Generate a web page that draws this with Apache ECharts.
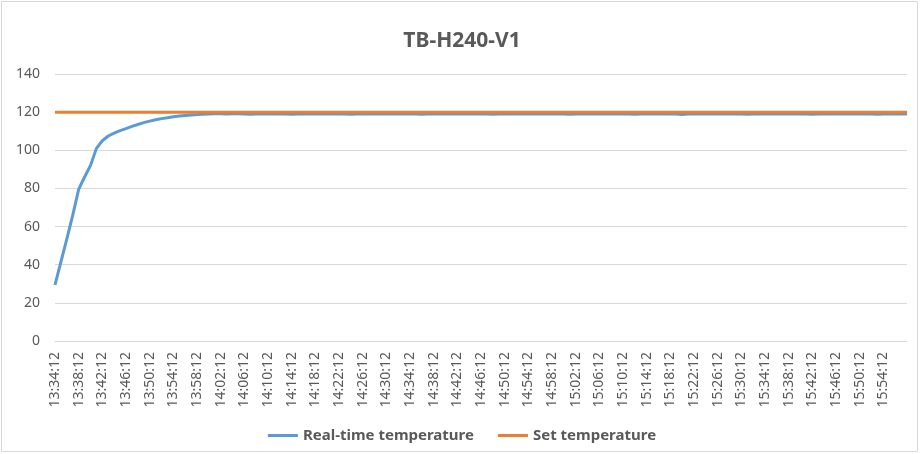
<!DOCTYPE html>
<html>
<head>
<meta charset="utf-8">
<script src="https://cdn.jsdelivr.net/npm/echarts@6/dist/echarts.min.js"></script>
<style>html,body{margin:0;padding:0;background:#fff;}#c{width:924px;height:454px;}</style>
</head>
<body>
<div id="c"></div>
<script>
const titleText = "TB-H240-V1";
const times = [
"13:34:12","13:35:12","13:36:12","13:37:12","13:38:12","13:39:12","13:40:12","13:41:12","13:42:12","13:43:12",
"13:44:12","13:45:12","13:46:12","13:47:12","13:48:12","13:49:12","13:50:12","13:51:12","13:52:12","13:53:12",
"13:54:12","13:55:12","13:56:12","13:57:12","13:58:12","13:59:12",
"14:00:12","14:01:12","14:02:12","14:03:12","14:04:12","14:05:12","14:06:12","14:07:12","14:08:12","14:09:12",
"14:10:12","14:11:12","14:12:12","14:13:12","14:14:12","14:15:12","14:16:12","14:17:12","14:18:12","14:19:12",
"14:20:12","14:21:12","14:22:12","14:23:12","14:24:12","14:25:12","14:26:12","14:27:12","14:28:12","14:29:12",
"14:30:12","14:31:12","14:32:12","14:33:12","14:34:12","14:35:12","14:36:12","14:37:12","14:38:12","14:39:12",
"14:40:12","14:41:12","14:42:12","14:43:12","14:44:12","14:45:12","14:46:12","14:47:12","14:48:12","14:49:12",
"14:50:12","14:51:12","14:52:12","14:53:12","14:54:12","14:55:12","14:56:12","14:57:12","14:58:12","14:59:12",
"15:00:12","15:01:12","15:02:12","15:03:12","15:04:12","15:05:12","15:06:12","15:07:12","15:08:12","15:09:12",
"15:10:12","15:11:12","15:12:12","15:13:12","15:14:12","15:15:12","15:16:12","15:17:12","15:18:12","15:19:12",
"15:20:12","15:21:12","15:22:12","15:23:12","15:24:12","15:25:12","15:26:12","15:27:12","15:28:12","15:29:12",
"15:30:12","15:31:12","15:32:12","15:33:12","15:34:12","15:35:12","15:36:12","15:37:12","15:38:12","15:39:12",
"15:40:12","15:41:12","15:42:12","15:43:12","15:44:12","15:45:12","15:46:12","15:47:12","15:48:12","15:49:12",
"15:50:12","15:51:12","15:52:12","15:53:12","15:54:12","15:55:12","15:56:12","15:57:12","15:58:12"
];
const realTimeTemp = [
29.4,41.5,53.5,66,79.5,86,92,101,105,107.5,
109,110.3,111.4,112.5,113.5,114.5,115.3,116,116.6,117.1,
117.6,118,118.3,118.5,118.7,118.9,
119,119.1,119.1,119,119.2,119.1,119,118.9,119,119.1,
119,119,119.1,119,118.9,119,119,119.1,119,119,
119,119.1,119,119,118.9,119,119,119,119.1,119,
119,119,119,119.1,119,119,118.9,119,119,119,
119.1,119,119,119,119,119.1,119,119,118.9,119,
119,119,119.1,119,119,119,119,119.1,119,119,
119,118.9,119,119,119.1,119,119,119,119,119.1,
119,119,118.9,119,119,119.1,119,119,119,119,
118.8,119,119,119.1,119,119,119,119,119.1,119,
119,118.9,119,119,119.1,119,119,119,119,119.1,
119,119,118.9,119,119,119.1,119,119,119,119,
119.1,119,119,118.9,119,119,119,119.1,119
];
const setTemp = [
120,120,120,120,120,120,120,120,120,120,120,120,120,120,120,120,120,120,120,120,
120,120,120,120,120,120,120,120,120,120,120,120,120,120,120,120,120,120,120,120,
120,120,120,120,120,120,120,120,120,120,120,120,120,120,120,120,120,120,120,120,
120,120,120,120,120,120,120,120,120,120,120,120,120,120,120,120,120,120,120,120,
120,120,120,120,120,120,120,120,120,120,120,120,120,120,120,120,120,120,120,120,
120,120,120,120,120,120,120,120,120,120,120,120,120,120,120,120,120,120,120,120,
120,120,120,120,120,120,120,120,120,120,120,120,120,120,120,120,120,120,120,120,
120,120,120,120,120
];
const seriesNames = ["Real-time temperature", "Set temperature"];

const chart = echarts.init(document.getElementById('c'));
const FONT = "'Noto Sans', 'Open Sans', sans-serif";
chart.setOption({
  animation: false,
  backgroundColor: '#fff',
  textStyle: { fontFamily: FONT },
  graphic: [{
    type: 'rect', shape: { x: 1.5, y: 1.5, width: 916, height: 450 },
    style: { fill: 'none', stroke: '#d9d9d9', lineWidth: 1 }, silent: true
  }],
  title: {
    text: titleText, left: 'center', top: 26,
    textStyle: { fontSize: 21, fontWeight: 'bold', color: '#595959', fontFamily: FONT }
  },
  legend: {
    data: seriesNames, bottom: 6, left: 'center', itemGap: 24,
    icon: 'rect', itemWidth: 30, itemHeight: 3,
    textStyle: { fontSize: 15, fontWeight: 'bold', color: '#595959', fontFamily: FONT }
  },
  grid: { left: 55, right: 17, top: 74, bottom: 113, containLabel: false },
  xAxis: {
    type: 'category', data: times, boundaryGap: false,
    axisLine: { show: true, lineStyle: { color: '#d9d9d9', width: 1 } },
    axisTick: { show: false },
    axisLabel: {
      rotate: 90, margin: 11, fontSize: 14, color: '#595959', fontFamily: FONT,
      interval: function (i) { return i % 4 === 0 && i < 144; }
    },
    splitLine: { show: false }
  },
  yAxis: {
    type: 'value', min: 0, max: 140, interval: 20,
    axisLine: { show: false }, axisTick: { show: false },
    axisLabel: { fontSize: 14, color: '#595959', margin: 15, fontFamily: FONT },
    splitLine: { lineStyle: { color: '#d9d9d9', width: 1 } }
  },
  series: [
    { name: seriesNames[0], type: 'line', data: realTimeTemp, showSymbol: false, symbol: 'none',
      lineStyle: { color: '#5b9bd5', width: 3 }, itemStyle: { color: '#5b9bd5' }, z: 2 },
    { name: seriesNames[1], type: 'line', data: setTemp, showSymbol: false, symbol: 'none',
      lineStyle: { color: '#ed7d31', width: 3 }, itemStyle: { color: '#ed7d31' }, z: 3 }
  ]
});
</script>
</body>
</html>
